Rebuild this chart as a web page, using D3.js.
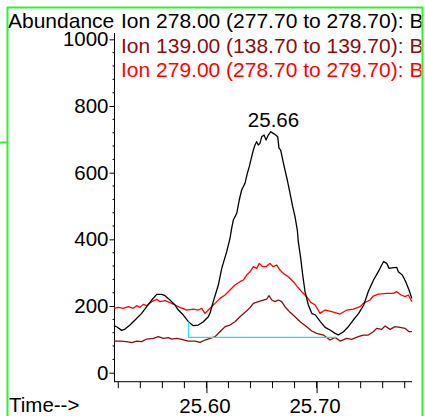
<!DOCTYPE html>
<html><head><meta charset="utf-8">
<script src="https://cdn.jsdelivr.net/npm/d3@7"></script>
<style>html,body{margin:0;padding:0;background:#fff;}svg{display:block;}</style>
</head><body>
<script>
// ---- data ----
const ion278Time = [25.5161,25.5188,25.5231,25.5261,25.5306,25.5352,25.5412,25.5458,25.5503,25.5549,25.5594,25.5624,25.5669,25.5715,25.5745,25.5790,25.5836,25.5881,25.5926,25.5972,25.6017,25.6033,25.6062,25.6108,25.6139,25.6184,25.6214,25.6229,25.6244,25.6275,25.6298,25.6320,25.6350,25.6371,25.6389,25.6411,25.6426,25.6441,25.6456,25.6471,25.6486,25.6502,25.6523,25.6541,25.6562,25.6584,25.6607,25.6629,25.6647,25.6659,25.6674,25.6693,25.6713,25.6734,25.6759,25.6783,25.6804,25.6825,25.6834,25.6856,25.6874,25.6895,25.6925,25.6956,25.6990,25.7034,25.7077,25.7122,25.7168,25.7197,25.7244,25.7288,25.7333,25.7382,25.7428,25.7471,25.7517,25.7560,25.7591,25.7608,25.7637,25.7658,25.7697,25.7727,25.7742,25.7778,25.7809,25.7839,25.7864];
const ion278Abund = [141,137,127,131,143,158,178,198,218,235,235,231,218,203,188,173,153,141,143,153,168,179,213,263,313,363,403,433,458,478,518,548,568,598,618,648,668,683,693,683,688,708,713,698,713,723,718,713,708,673,668,638,608,578,538,498,468,428,393,343,293,243,203,178,173,153,136,128,118,113,123,138,158,178,203,245,278,303,323,333,328,313,315,316,303,293,273,248,223];

const ion139Time = [25.5161,25.5215,25.5276,25.5322,25.5367,25.5412,25.5458,25.5518,25.5563,25.5609,25.5654,25.5685,25.5730,25.5776,25.5836,25.5896,25.5942,25.5987,25.6033,25.6078,25.6123,25.6169,25.6214,25.6259,25.6305,25.6350,25.6396,25.6426,25.6471,25.6516,25.6547,25.6568,25.6593,25.6623,25.6653,25.6683,25.6713,25.6759,25.6804,25.6850,25.6910,25.6956,25.7001,25.7061,25.7122,25.7167,25.7213,25.7274,25.7319,25.7379,25.7424,25.7470,25.7515,25.7546,25.7591,25.7621,25.7667,25.7712,25.7758,25.7803,25.7839,25.7866];
const ion139Abund = [95,95,93,90,95,93,101,103,108,103,105,101,103,100,95,95,91,98,103,108,123,138,143,153,168,181,195,208,213,218,221,231,218,213,218,213,198,181,168,153,138,125,118,113,98,106,95,103,100,108,113,113,123,133,130,140,130,138,136,133,123,123];

const ion279Time = [25.5161,25.5200,25.5245,25.5291,25.5336,25.5367,25.5397,25.5427,25.5458,25.5503,25.5549,25.5579,25.5624,25.5669,25.5715,25.5760,25.5821,25.5881,25.5926,25.5957,25.5987,25.6017,25.6062,25.6078,25.6123,25.6169,25.6214,25.6259,25.6305,25.6335,25.6366,25.6396,25.6426,25.6456,25.6480,25.6511,25.6541,25.6577,25.6607,25.6638,25.6668,25.6698,25.6743,25.6789,25.6825,25.6865,25.6910,25.6947,25.6988,25.7031,25.7077,25.7137,25.7213,25.7274,25.7333,25.7394,25.7424,25.7485,25.7515,25.7560,25.7637,25.7697,25.7727,25.7767,25.7803,25.7833,25.7866];
const ion279Abund = [193,196,193,198,193,201,196,205,201,213,220,213,216,210,203,196,188,191,188,193,178,188,203,208,223,233,248,263,273,278,293,303,318,313,328,318,318,328,318,323,308,298,288,273,258,243,228,211,203,178,188,183,176,188,191,198,208,218,230,236,238,238,243,233,228,233,213];

const baselineTime = [25.5839, 25.5839, 25.7185];
const baselineAbund = [153, 106, 106];

const legendLabels = ["Ion 278.00 (277.70 to 278.70): B", "Ion 139.00 (138.70 to 139.70): B", "Ion 279.00 (278.70 to 279.70): B"];
const seriesColors = ["#000000", "#8b0d0d", "#ff0000"];
const yTickValues = [0, 200, 400, 600, 800, 1000];
const xTickValues = [25.60, 25.70];
const xTickLabels = ["25.60", "25.70"];
const peakTime = 25.66, peakAbund = 723, peakLabel = "25.66";

// ---- drawing ----
const W = 425, H = 416;
const FONT = "'Liberation Sans', Arial, sans-serif";
const svg = d3.select("body").append("svg").attr("width", W).attr("height", H)
  .style("font-family", FONT);

const x = d3.scaleLinear().domain([25.5161, 25.7866]).range([114, 412]);
const y = d3.scaleLinear().domain([-27, 1019]).range([381.7, 33]);

svg.append("defs").append("clipPath").attr("id", "clipR")
  .append("rect").attr("x", 0).attr("y", 0).attr("width", 421.5).attr("height", H);

// y axis
const yAxis = d3.axisLeft(y).tickValues(yTickValues).tickFormat(d3.format("d")).tickSize(5).tickSizeOuter(0).tickPadding(1);
const gy = svg.append("g").attr("transform", "translate(114.5,0)").call(yAxis);
gy.select(".domain").remove();
gy.selectAll("text").attr("font-size", 20.5).attr("fill", "#000").attr("font-family", FONT);
gy.selectAll("line").attr("stroke", "#000");
gy.selectAll(".minor").data(d3.range(0, 1001, 40).filter(v => v % 200 !== 0)).enter()
  .append("line").attr("x1", -2).attr("x2", 0).attr("y1", d => y(d)).attr("y2", d => y(d)).attr("stroke", "#000");
svg.append("line").attr("x1", 114.5).attr("x2", 114.5).attr("y1", 33).attr("y2", 382).attr("stroke", "#000");

// x axis
const xAxis = d3.axisBottom(x).tickValues(xTickValues).tickFormat((d, i) => xTickLabels[i]).tickSize(11.5).tickSizeOuter(0).tickPadding(5);
const gx = svg.append("g").attr("transform", "translate(0,381.7)").call(xAxis);
gx.select(".domain").remove();
gx.selectAll("text").attr("font-size", 20.5).attr("fill", "#000").attr("dx", -2).attr("font-family", FONT);
gx.selectAll("line").attr("stroke", "#000");
gx.selectAll(".minor").data(d3.range(0, 14).map(i => 25.52 + i * 0.02)).enter()
  .append("line").attr("x1", d => x(d)).attr("x2", d => x(d)).attr("y1", 0).attr("y2", 6.5).attr("stroke", "#000");
svg.append("line").attr("x1", 114).attr("x2", 412).attr("y1", 381.7).attr("y2", 381.7).attr("stroke", "#000");

// series
const line = d3.line().x(d => x(d[0])).y(d => y(d[1]));
const series = [
  [ion139Time, ion139Abund, seriesColors[1]],
  [ion279Time, ion279Abund, seriesColors[2]],
  [ion278Time, ion278Abund, seriesColors[0]]
];
series.forEach(([t, a, c]) => {
  svg.append("path").datum(t.map((v, i) => [v, a[i]]))
    .attr("d", line).attr("fill", "none").attr("stroke", c).attr("stroke-width", 1.3).attr("stroke-linejoin", "round");
});
svg.append("path").datum(baselineTime.map((v, i) => [v, baselineAbund[i]]))
  .attr("d", line).attr("fill", "none").attr("stroke", "#19e3e3").attr("stroke-width", 1.2);

// peak label
svg.append("text").attr("x", x(peakTime) + 1).attr("y", y(peakAbund) - 5)
  .attr("text-anchor", "middle").attr("font-size", 20.5).text(peakLabel);

// labels
svg.append("text").attr("x", 8).attr("y", 28).attr("font-size", 21).text("Abundance");
svg.append("text").attr("x", 9).attr("y", 411.5).attr("font-size", 20.5).text("Time-->");
const lg = svg.append("g").attr("clip-path", "url(#clipR)");
legendLabels.forEach((l, i) => {
  lg.append("text").attr("x", 121).attr("y", 28 + i * 24.5).attr("font-size", 21)
    .attr("fill", seriesColors[i]).text(l);
});

// green frame
const green = "#33ee33";
svg.append("line").attr("x1", 7).attr("x2", 423).attr("y1", 7.5).attr("y2", 7.5).attr("stroke", green).attr("stroke-width", 2);
svg.append("line").attr("x1", 7.5).attr("x2", 7.5).attr("y1", 7).attr("y2", H).attr("stroke", green).attr("stroke-width", 2);
svg.append("line").attr("x1", 422.5).attr("x2", 422.5).attr("y1", 7).attr("y2", H).attr("stroke", green).attr("stroke-width", 2);
svg.append("line").attr("x1", 0).attr("x2", 7).attr("y1", 142.5).attr("y2", 142.5).attr("stroke", green).attr("stroke-width", 2);
</script>
</body></html>
